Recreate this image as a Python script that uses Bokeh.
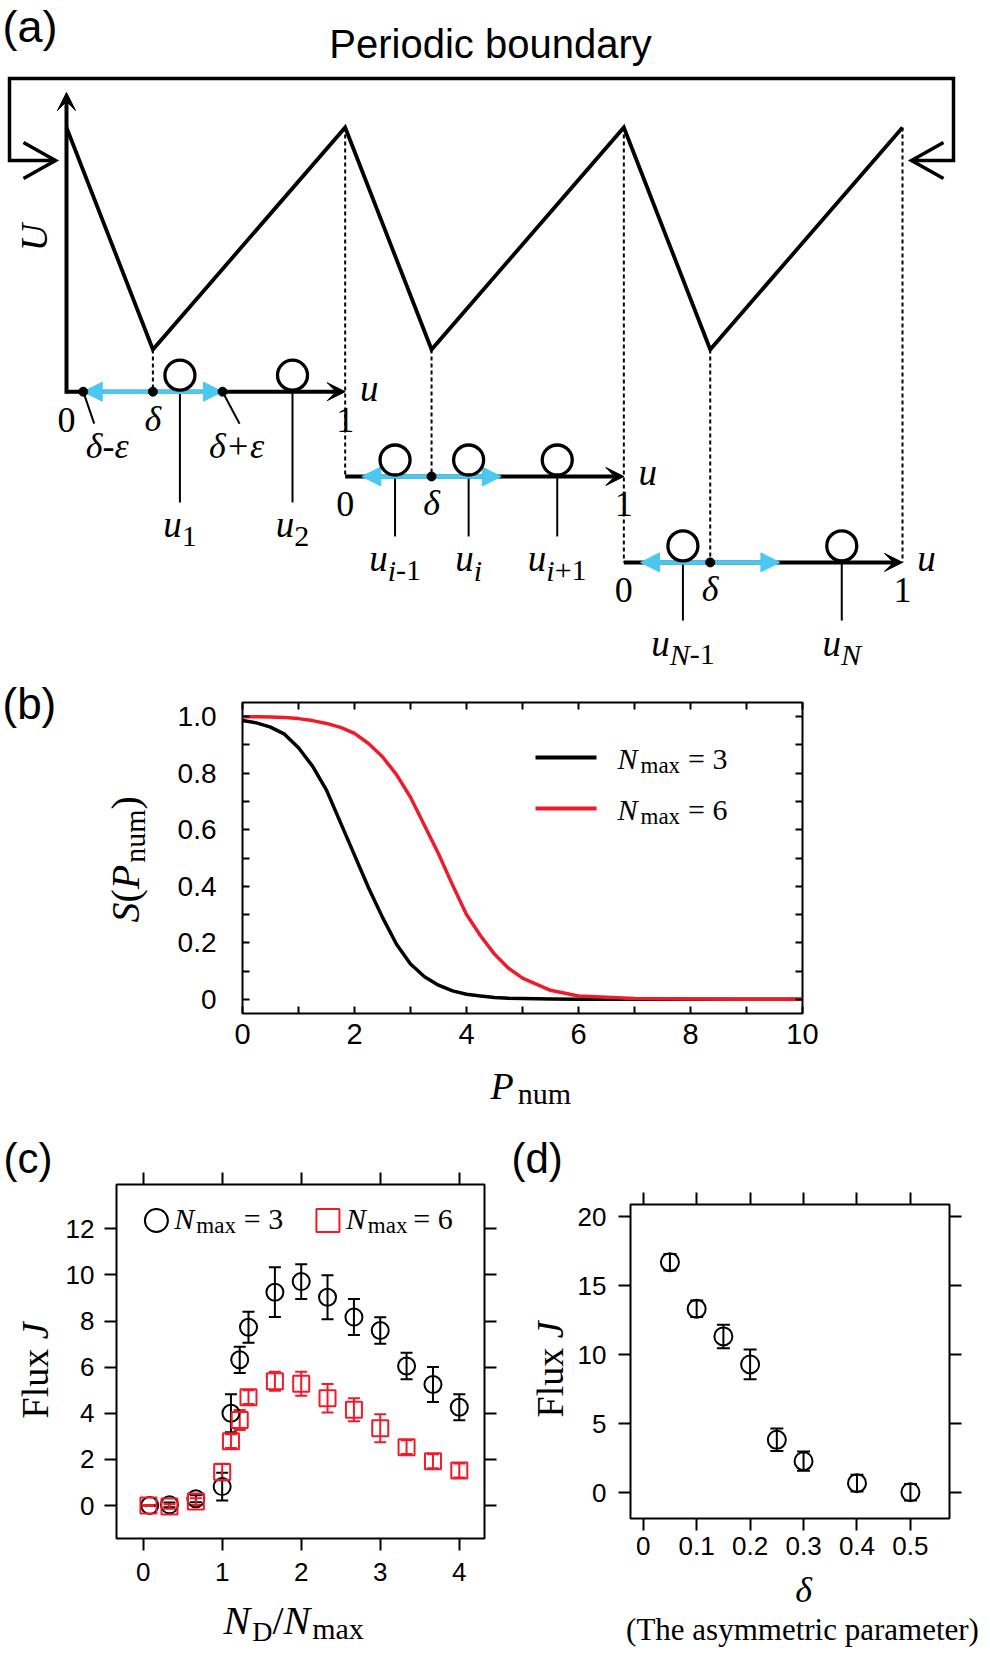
import math
from bokeh.plotting import figure
from bokeh.models import (Range1d, Label, Arrow, NormalHead, VeeHead, TeeHead, Whisker,
                          ColumnDataSource, LinearAxis, FixedTicker, PrintfTickFormatter)
from bokeh.layouts import column, row
from bokeh.embed import file_html
from bokeh.resources import INLINE

SERIF = "Liberation Serif"
SANS = "Liberation Sans"
RED = "#EE1C2B"
CYAN = "#4CC8F0"

# ======================= data =======================
# (a) schematic: three cells of the ratchet potential
cells = [0, 1, 2]
u_peak = 1.0
u_min = 0.0
delta = 0.31
eps = 0.25
axis_level = [-0.19, -0.572, -0.959]
stick_level = [-0.689, -0.842, -1.221]
particle_cell = [0, 0, 1, 1, 1, 2, 2]
particle_u = [0.407, 0.811, 0.179, 0.443, 0.761, 0.212, 0.782]
particle_sub = [["1"], ["2"], ["i", "-1"], ["i"], ["i", "+1"], ["N", "-1"], ["N"]]

# (b) S(P_num)
P_num = [0, 0.25, 0.5, 0.75, 1, 1.25, 1.5, 1.75, 2, 2.25, 2.5, 2.75, 3, 3.25, 3.5,
         3.75, 4, 4.25, 4.5, 4.75, 5, 5.5, 6, 7, 8, 9, 10]
S_nmax3 = [0.986, 0.978, 0.963, 0.938, 0.89, 0.825, 0.74, 0.625, 0.51, 0.395, 0.29,
           0.195, 0.125, 0.08, 0.05, 0.03, 0.018, 0.012, 0.007, 0.004, 0.003, 0.001,
           0.0, 0.0, 0.0, 0.0, 0.0]
S_nmax6 = [1.0, 1.0, 0.999, 0.997, 0.993, 0.986, 0.976, 0.962, 0.941, 0.905, 0.858,
           0.795, 0.715, 0.615, 0.515, 0.405, 0.30, 0.225, 0.16, 0.11, 0.075, 0.032,
           0.012, 0.003, 0.001, 0.0, 0.0]
b_legend = ["3", "6"]
b_x_ticks = [0, 2, 4, 6, 8, 10]
b_y_ticks = [0, 0.2, 0.4, 0.6, 0.8, 1.0]

# (c) Flux vs N_D/N_max
ratio_n3 = [0.083, 0.333, 0.667, 1.0, 1.111, 1.222, 1.333, 1.667, 2.0, 2.333, 2.667,
            3.0, 3.333, 3.667, 4.0]
flux_n3 = [0.0, 0.03, 0.29, 0.82, 4.0, 6.32, 7.73, 9.25, 9.71, 9.03, 8.17, 7.59, 6.05,
           5.25, 4.26]
err_n3 = [0.02, 0.1, 0.15, 0.6, 0.82, 0.57, 0.67, 1.08, 0.75, 0.95, 0.78, 0.57, 0.57,
          0.76, 0.56]
ratio_n6 = [0.067, 0.333, 0.667, 1.0, 1.111, 1.222, 1.333, 1.667, 2.0, 2.333, 2.667,
            3.0, 3.333, 3.667, 4.0]
flux_n6 = [0.0, -0.04, 0.17, 1.45, 2.79, 3.71, 4.7, 5.39, 5.28, 4.65, 4.15, 3.35, 2.53,
           1.92, 1.52]
err_n6 = [0.02, 0.1, 0.15, 0.36, 0.3, 0.43, 0.3, 0.41, 0.52, 0.62, 0.5, 0.61, 0.3, 0.3,
          0.3]
c_x_ticks = [0, 1, 2, 3, 4]
c_y_ticks = [0, 2, 4, 6, 8, 10, 12]

# (d) Flux vs delta
delta_d = [0.05, 0.1, 0.15, 0.2, 0.25, 0.3, 0.4, 0.5]
flux_d = [16.71, 13.33, 11.33, 9.3, 3.84, 2.29, 0.70, 0.04]
err_d = [0.6, 0.6, 0.85, 1.08, 0.82, 0.7, 0.6, 0.6]
d_x_ticks = [0, 0.1, 0.2, 0.3, 0.4, 0.5]
d_y_ticks = [0, 5, 10, 15, 20]

# ======================= helpers =======================
W_REG = {'N': .722, 'm': .778, 'a': .444, 'x': .5, ' ': .25, '=': .564, 'D': .722,
         '/': .278, 'n': .5, 'u': .5, '(': .333, ')': .333, 'S': .556, 'P': .556,
         'F': .556, 'l': .278, 'J': .389, 'i': .278, '-': .333, '+': .564}
W_IT = {'N': .667, 'S': .5, 'P': .611, 'J': .444, 'u': .5, 'i': .278, 'δ': .5, 'ε': .44}
K_MID = {SERIF: 0.3375, SANS: 0.3465}   # em-box middle above the baseline

PAGE_W = 986     # total layout width
PAGE_H = 1654    # total layout height


def tw(s, size, style):
    tab = W_IT if style == "italic" else W_REG
    return sum(tab.get(c, 0.5) for c in s) * size


def ident(v):
    return v


def label_px(p, fx, fy, px, py, text, size, font=SERIF, style="normal", align="left",
             angle=0.0, color="black"):
    """(px, py) = baseline anchor in page pixels; drawn with a 'middle' baseline."""
    k = K_MID[font] * size
    if angle == 0.0:
        py = py - k
    else:
        px = px - k
    p.add_layout(Label(x=fx(px), y=fy(py), text=text, text_font=font,
                       text_font_size=f"{size}px", text_font_style=style, text_align=align,
                       text_baseline="middle", angle=angle, text_color=color))


def rich(p, fx, fy, px, py, segs, angle=0.0):
    adv = 0.0
    for seg in segs:
        text, size, style, shift = seg[:4]
        kern = seg[4] if len(seg) > 4 else 0.0
        if angle == 0.0:
            x, y = px + adv, py + shift
        else:
            x, y = px + shift, py - adv
        label_px(p, fx, fy, x, y, text, size, style=style, angle=angle)
        adv += tw(text, size, style) + kern


def mk_axis(ticks, minor, tin, tout, font_size=25, standoff=10, labels=True, fmt=None):
    ax = LinearAxis(ticker=FixedTicker(ticks=ticks, minor_ticks=minor))
    ax.axis_line_color = None
    ax.major_tick_in = tin
    ax.major_tick_out = tout
    ax.minor_tick_in = tin
    ax.minor_tick_out = tout
    ax.major_tick_line_width = 2
    ax.minor_tick_line_width = 2
    ax.major_tick_line_color = "black"
    ax.minor_tick_line_color = "black"
    if labels:
        if fmt is not None:
            ax.formatter = PrintfTickFormatter(format=fmt)
            ax.major_label_overrides = {0: "0"}
        ax.major_label_text_font = SANS
        ax.major_label_text_font_size = f"{font_size}px"
        ax.major_label_standoff = standoff
        ax.major_label_text_color = "black"
    else:
        ax.major_label_overrides = {t: "" for t in ticks}
        ax.major_label_text_font_size = "1px"
        ax.major_label_standoff = 0
    return ax


def base_fig(w, h, xr, yr, l, r, t, b):
    p = figure(width=w, height=h, x_range=Range1d(*xr), y_range=Range1d(*yr),
               output_backend="svg", toolbar_location=None,
               min_border_left=l, min_border_right=r, min_border_top=t, min_border_bottom=b,
               x_axis_location=None, y_axis_location=None)
    p.title.visible = False
    p.title.text = ""
    p.grid.visible = False
    p.background_fill_color = "white"
    p.border_fill_color = "white"
    try:
        p.frame_align = False
    except Exception:
        pass
    return p


def text_fig(x0, x1, y0, y1):
    # frame covers the whole canvas; data units equal page pixels (y downward)
    p = base_fig(x1 - x0, y1 - y0, (x0, x1), (y1, y0), 0, 0, 0, 0)
    p.outline_line_color = None
    return p


# ======================= (a) schematic =======================
ORG_X, ORG_Y, CELL_PX, U_PX = 66.0, 349.0, 278.67, 222.0
A_BOTTOM = 674


def ax_(px):
    return (px - ORG_X) / CELL_PX


def ay_(py):
    return (ORG_Y - py) / U_PX


def px_a(x):
    return ORG_X + x * CELL_PX


def py_a(u):
    return ORG_Y - u * U_PX


pa = base_fig(PAGE_W, A_BOTTOM, (ax_(0), ax_(PAGE_W)), (ay_(A_BOTTOM), ay_(0)), 0, 0, 0, 0)
pa.outline_line_color = None

# periodic-boundary bracket
BR_L, BR_R, BR_T, BR_Y = ax_(9), ax_(953), ay_(78), ay_(160)
TIP_L, TIP_R = ax_(55), ax_(911)
ARM_X, ARM_Y = 32 / CELL_PX, 18 / U_PX
pa.line([TIP_L, BR_L, BR_L, BR_R, BR_R, TIP_R], [BR_Y, BR_Y, BR_T, BR_T, BR_Y, BR_Y],
        line_width=3.5, color="black", line_join="miter")
pa.line([TIP_L - ARM_X, TIP_L, TIP_L - ARM_X], [BR_Y + ARM_Y, BR_Y, BR_Y - ARM_Y],
        line_width=3.5, color="black", line_join="miter")
pa.line([TIP_R + ARM_X, TIP_R, TIP_R + ARM_X], [BR_Y + ARM_Y, BR_Y, BR_Y - ARM_Y],
        line_width=3.5, color="black", line_join="miter")

# dotted guides
gx = [k + delta for k in cells] + [k + 1 for k in cells]
gy0 = [u_min] * len(cells) + [u_peak] * len(cells)
gy1 = [axis_level[k] for k in cells] + [axis_level[min(k + 1, len(cells) - 1)] for k in cells]
pa.segment(x0=gx, y0=gy0, x1=gx, y1=gy1, line_dash="4 3", line_width=2, color="black")

# potential
pot_x, pot_y = [], []
for k in cells:
    pot_x += [k, k + delta]
    pot_y += [u_peak, u_min]
pot_x.append(len(cells))
pot_y.append(u_peak)
pa.line(pot_x, pot_y, line_width=3.8, color="black", line_join="miter")

# U axis
pa.add_layout(Arrow(end=VeeHead(size=18, fill_color="black", line_color="black", line_width=1),
                    x_start=0, y_start=axis_level[0] - 2 / U_PX, x_end=0, y_end=ay_(92),
                    line_width=4, line_color="black"))

# u axes of each cell
for k in cells:
    pa.add_layout(Arrow(end=VeeHead(size=18, fill_color="black", line_color="black", line_width=1),
                        x_start=k, y_start=axis_level[k], x_end=k + 1, y_end=axis_level[k],
                        line_width=4, line_color="black"))
    pa.add_layout(Arrow(start=NormalHead(size=19, fill_color=CYAN, line_color=CYAN, line_width=1),
                        end=NormalHead(size=19, fill_color=CYAN, line_color=CYAN, line_width=1),
                        x_start=k + delta - eps, y_start=axis_level[k],
                        x_end=k + delta + eps, y_end=axis_level[k],
                        line_width=4.5, line_color=CYAN))

# leader lines for delta +- eps
pa.segment(x0=[delta - eps, delta + eps], y0=[axis_level[0]] * 2,
           x1=[delta - eps + 11 / CELL_PX, delta + eps + 17 / CELL_PX],
           y1=[axis_level[0] - 32 / U_PX] * 2, line_width=2, color="black")

# particles
part_x = [c + u for c, u in zip(particle_cell, particle_u)]
part_axis = [axis_level[c] for c in particle_cell]
part_stick = [stick_level[c] for c in particle_cell]
pa.segment(x0=part_x, y0=part_axis, x1=part_x, y1=part_stick, line_width=2, color="black")
r = pa.scatter(part_x, [a + 16.5 / U_PX for a in part_axis], marker="circle", size=30,
               fill_color="white", line_color="black", line_width=3.3)
r.level = "overlay"

# dots
dot_x = [delta - eps, delta, delta + eps] + [k + delta for k in cells[1:]]
dot_y = [axis_level[0]] * 3 + [axis_level[k] for k in cells[1:]]
r = pa.scatter(dot_x, dot_y, marker="circle", size=9, fill_color="black", line_color="black")
r.level = "overlay"

# texts of (a)
label_px(pa, ax_, ay_, 2, 42, "(a)", 45, font=SANS)
label_px(pa, ax_, ay_, 490, 57, "Periodic boundary", 40, font=SANS, align="center")
pa.add_layout(Label(x=ax_(33), y=ay_(237), text="U", text_font=SERIF, text_font_size="38px",
                    text_font_style="italic", text_align="center", text_baseline="middle",
                    angle=math.pi / 2, text_color="black"))
for k in cells:
    yb = py_a(axis_level[k])
    label_px(pa, ax_, ay_, px_a(k), yb + 40, "0", 36, align="center")
    label_px(pa, ax_, ay_, px_a(k + 1), yb + 40, "1", 36, align="center")
    label_px(pa, ax_, ay_, px_a(k + delta), yb + 39, "δ", 36, style="italic", align="center")
    label_px(pa, ax_, ay_, px_a(k + 1) + 24, yb + 9, "u", 37, style="italic", align="center")
yb0 = py_a(axis_level[0])
label_px(pa, ax_, ay_, px_a(delta - eps) + 24, yb0 + 66, "δ-ε", 36, style="italic",
         align="center")
label_px(pa, ax_, ay_, px_a(delta + eps) + 14, yb0 + 66, "δ+ε", 36, style="italic",
         align="center")

for c, u, sub in zip(particle_cell, particle_u, particle_sub):
    xpx = px_a(c + u)
    base = py_a(stick_level[c]) + 35
    segs = [("u", 37, "italic", 0)]
    for s in sub:
        st = "italic" if s.isalpha() else "normal"
        segs.append((s, 30, st, 9))
    total = sum(tw(s[0], s[1], s[2]) for s in segs)
    rich(pa, ax_, ay_, xpx - total / 2, base, segs)

# ======================= (b) =======================
B_TOP, B_SPLIT, B_BOTTOM, B_LEFT = A_BOTTOM, 1058, 1110, 160
pbL = text_fig(0, B_LEFT, B_TOP, B_BOTTOM)
pb = base_fig(PAGE_W - B_LEFT, B_SPLIT - B_TOP, (0, 10), (-0.05, 1.05),
              242 - B_LEFT, PAGE_W - 802, 702 - B_TOP, B_SPLIT - 1013)
pb.outline_line_color = "black"
pb.outline_line_width = 2
pbB = text_fig(B_LEFT, PAGE_W, B_SPLIT, B_BOTTOM)


def bx(px):
    return (px - 242) / 56.0


def by(py):
    return 1.05 - (py - 702) * 1.1 / 311.0


b_x_minor = [1, 3, 5, 7, 9]
b_y_minor = [0.1, 0.3, 0.5, 0.7, 0.9]
pb.add_layout(mk_axis(b_y_ticks, b_y_minor, 7, 0, 28, 26, True, "%.1f"), "left")
pb.add_layout(mk_axis(b_x_ticks, b_x_minor, 7, 0, 29, 10, True), "below")
pb.add_layout(mk_axis(b_x_ticks, b_x_minor, 7, 0, labels=False), "above")
pb.add_layout(mk_axis(b_y_ticks, b_y_minor, 7, 0, labels=False), "right")

pb.line(P_num, S_nmax3, color="black", line_width=3.5, line_join="round")
pb.line(P_num, S_nmax6, color=RED, line_width=3.5, line_join="round")

# legend
for i, (col, n) in enumerate(zip(["black", RED], b_legend)):
    yl = 757 + 51 * i
    pb.segment(x0=[bx(535)], y0=[by(yl)], x1=[bx(596)], y1=[by(yl)], color=col, line_width=4)
    rich(pb, bx, by, 617, yl + 11, [("N", 30, "italic", 0, 3), ("max", 23, "normal", 5, 8),
                                    ("= " + n, 30, "normal", 0)])

label_px(pbL, ident, ident, 2, 718, "(b)", 44, font=SANS)
rich(pbL, ident, ident, 138, 922, [("S", 40, "italic", 0), ("(", 40, "normal", 0),
                                   ("P", 40, "italic", 0, 2), ("num", 30, "normal", 6),
                                   (")", 40, "normal", 0)], angle=math.pi / 2)
rich(pbB, ident, ident, 490, 1098, [("P", 38, "italic", 0, 4), ("num", 30, "normal", 5)])

# ======================= (c) =======================
C_TOP, C_SPLIT, C_BOTTOM, C_LEFT, C_RIGHT = B_BOTTOM, 1594, PAGE_H, 62, 508
pcL = text_fig(0, C_LEFT, C_TOP, C_BOTTOM)
pc = base_fig(C_RIGHT - C_LEFT, C_SPLIT - C_TOP, (-0.337, 4.319), (-1.43, 13.92),
              115 - C_LEFT, C_RIGHT - 484, 1184 - C_TOP, C_SPLIT - 1538)
pc.outline_line_color = "black"
pc.outline_line_width = 2
pcB = text_fig(C_LEFT, C_RIGHT, C_SPLIT, C_BOTTOM)


def cx(px):
    return -0.337 + (px - 115) * 4.656 / 369.0


def cy(py):
    return 13.92 - (py - 1184) * 15.35 / 354.0


pc.add_layout(mk_axis(c_y_ticks, [], 0, 12, 26, 10, True), "left")
pc.add_layout(mk_axis(c_x_ticks, [], 0, 12, 26, 12, True), "below")
pc.add_layout(mk_axis(c_x_ticks, [], 0, 12, labels=False), "above")
pc.add_layout(mk_axis(c_y_ticks, [], 0, 12, labels=False), "right")

for xs, ys, es, col in [(ratio_n3, flux_n3, err_n3, "black"), (ratio_n6, flux_n6, err_n6, RED)]:
    src = ColumnDataSource(dict(x=xs, lower=[y - e for y, e in zip(ys, es)],
                                upper=[y + e for y, e in zip(ys, es)]))
    pc.add_layout(Whisker(source=src, base="x", lower="lower", upper="upper",
                          line_color=col, line_width=2,
                          upper_head=TeeHead(size=12, line_color=col, line_width=2),
                          lower_head=TeeHead(size=12, line_color=col, line_width=2)))
pc.scatter(ratio_n3, flux_n3, marker="circle", size=17, fill_color=None, line_color="black",
           line_width=2)
pc.scatter(ratio_n6, flux_n6, marker="square", size=16, fill_color=None, line_color=RED,
           line_width=2)

# legend
pc.scatter([cx(155)], [cy(1220)], marker="circle", size=23, fill_color=None,
           line_color="black", line_width=2)
pc.scatter([cx(327)], [cy(1220)], marker="square", size=23, fill_color=None,
           line_color=RED, line_width=2)
rich(pc, cx, cy, 173, 1228, [("N", 30, "italic", 0, 2), ("max", 23, "normal", 5, 8),
                             ("= 3", 30, "normal", 0)])
rich(pc, cx, cy, 345, 1228, [("N", 30, "italic", 0, 2), ("max", 23, "normal", 5, 6),
                             ("= 6", 30, "normal", 0)])

label_px(pcL, ident, ident, 3, 1173, "(c)", 42, font=SANS)
rich(pcL, ident, ident, 47, 1418, [("Flux ", 38, "normal", 0), ("J", 38, "italic", 0)],
     angle=math.pi / 2)
rich(pcB, ident, ident, 223, 1633, [("N", 40, "italic", 0, 2), ("D", 28, "normal", 7),
                                    ("/", 40, "normal", 0), ("N", 40, "italic", 0, 2),
                                    ("max", 30, "normal", 5)])

# ======================= (d) =======================
D_SPLIT, D_LEFT = 1566, 574
pdL = text_fig(C_RIGHT, D_LEFT, C_TOP, C_BOTTOM)
pdd = base_fig(PAGE_W - D_LEFT, D_SPLIT - C_TOP, (-0.0238, 0.5731), (-1.862, 20.89),
               630 - D_LEFT, PAGE_W - 949, 1204 - C_TOP, D_SPLIT - 1518)
pdd.outline_line_color = "black"
pdd.outline_line_width = 2
pdB = text_fig(D_LEFT, PAGE_W, D_SPLIT, C_BOTTOM)

pdd.add_layout(mk_axis(d_y_ticks, [], 0, 12, 26, 12, True), "left")
pdd.add_layout(mk_axis(d_x_ticks, [], 0, 12, 26, 6, True, "%.1f"), "below")
pdd.add_layout(mk_axis(d_x_ticks, [], 0, 12, labels=False), "above")
pdd.add_layout(mk_axis(d_y_ticks, [], 0, 12, labels=False), "right")

src_d = ColumnDataSource(dict(x=delta_d, lower=[y - e for y, e in zip(flux_d, err_d)],
                              upper=[y + e for y, e in zip(flux_d, err_d)]))
pdd.add_layout(Whisker(source=src_d, base="x", lower="lower", upper="upper",
                       line_color="black", line_width=2,
                       upper_head=TeeHead(size=13, line_color="black", line_width=2),
                       lower_head=TeeHead(size=13, line_color="black", line_width=2)))
pdd.scatter(delta_d, flux_d, marker="circle", size=18, fill_color=None, line_color="black",
            line_width=2)

label_px(pdL, ident, ident, 511, 1173, "(d)", 42, font=SANS)
rich(pdL, ident, ident, 562, 1417, [("Flux ", 38, "normal", 0), ("J", 38, "italic", 0)],
     angle=math.pi / 2)
label_px(pdB, ident, ident, 803, 1602, "δ", 36, style="italic", align="center")
label_px(pdB, ident, ident, 802, 1639, "(The asymmetric parameter)", 31, align="center")

layout = column(
    pa,
    row(pbL, column(pb, pbB)),
    row(pcL, column(pc, pcB), pdL, column(pdd, pdB)),
)
open("out.html", "w").write(file_html(layout, INLINE))
